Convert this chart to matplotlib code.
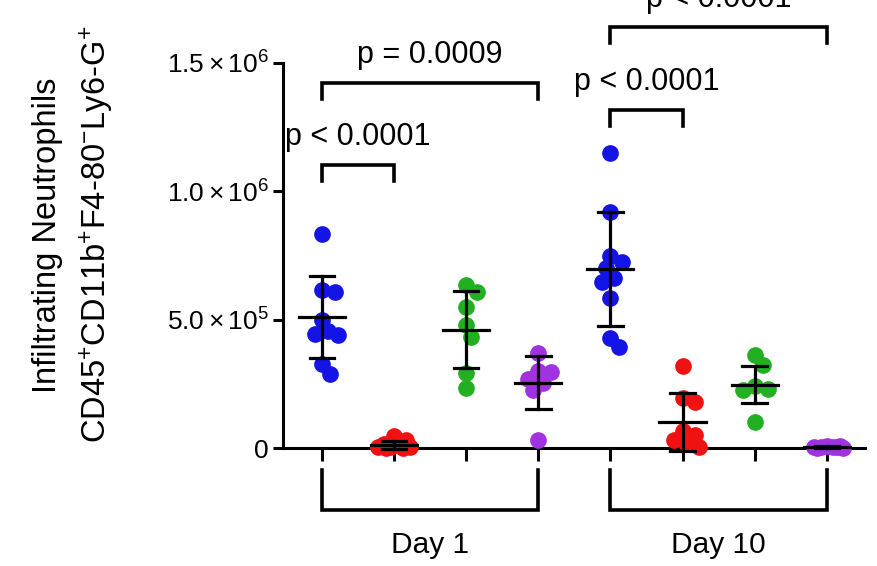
import numpy as np
import matplotlib.pyplot as plt

plt.rcParams['font.family'] = ['Liberation Sans', 'DejaVu Sans']
plt.rcParams['mathtext.fontset'] = 'custom'
plt.rcParams['mathtext.rm'] = 'Liberation Sans'
plt.rcParams['mathtext.it'] = 'Liberation Sans:italic'

# values in thousands of cells
blue_d1 = [834, 616, 608, 499, 455, 445, 440, 327, 288]
red_d1 = [48, 30, 15, 10, 5, 3, 2, 1, 0]
green_d1 = [635, 608, 550, 479, 433, 292, 234]
purple_d1 = [370, 300, 295, 270, 255, 225, 31]
blue_d10 = [1150, 920, 748, 725, 701, 662, 647, 585, 429, 394]
red_d10 = [320, 195, 180, 65, 50, 30, 20, 5]
green_d10 = [362, 323, 240, 230, 225, 101]
purple_d10 = [8, 6, 5, 4, 3, 2, 1, 0]

groups = [blue_d1, red_d1, green_d1, purple_d1, blue_d10, red_d10, green_d10, purple_d10]
colors = ['#1414e6', '#f01212', '#22b022', '#a032e0'] * 2
means = [511, 12, 460, 255, 698, 101, 246, 3.5]
sds = [160, 16, 150, 103, 222, 113, 72, 3]

day_labels = ['Day 1', 'Day 10']
comparisons = [(0, 1, 'p < 0.0001'), (0, 3, 'p = 0.0009'),
               (4, 5, 'p < 0.0001'), (4, 7, 'p < 0.0001')]
bracket_y = [1103, 1422, 1317, 1641]

yticks = [0, 5e5, 1e6, 1.5e6]
ytick_labels = ['0', r'$\mathregular{5.0\times10^{5}}$',
                r'$\mathregular{1.0\times10^{6}}$', r'$\mathregular{1.5\times10^{6}}$']

fig = plt.figure(figsize=(8.77, 5.66), dpi=100)
ax = fig.add_axes([283/877, 118/566, 582/877, 385/566])
ax.set_xlim(-0.54, 7.53)
ax.set_ylim(0, 1.5e6)

# simple beeswarm in pixel space
def swarm(vals, diam=12.5, maxw=16):
    vals = np.array(vals, dtype=float) * 1e3
    order = np.argsort(-vals)
    ypx = ax.transData.transform(np.c_[np.zeros(len(vals)), vals])[:, 1]
    xunit = ax.transData.transform([[1, 0]])[0, 0] - ax.transData.transform([[0, 0]])[0, 0]
    cand = [0.0]
    for k in np.arange(1, maxw + 0.5, 1.0):
        cand += [k, -k]
    placed = []
    offs = np.zeros(len(vals))
    for i in order:
        best, bestd = 0.0, -1
        for c in cand:
            d = min([np.hypot(c - px, ypx[i] - py) for px, py in placed], default=1e9)
            if d >= diam:
                best = c
                break
            if d > bestd:
                best, bestd = c, d
        placed.append((best, ypx[i]))
        offs[i] = best / xunit
    return offs

for i, vals in enumerate(groups):
    offs = swarm(vals)
    ax.plot(i + offs, np.array(vals) * 1e3, 'o', color=colors[i], ms=11,
            mec=colors[i], clip_on=False, zorder=3)
    m, s = means[i] * 1e3, sds[i] * 1e3
    ax.plot([i - 0.32, i + 0.32], [m, m], color='black', lw=2.3, zorder=4, clip_on=False)
    ax.plot([i, i], [m - s, m + s], color='black', lw=2.3, zorder=4, clip_on=False)
    for e in (m - s, m + s):
        ax.plot([i - 0.17, i + 0.17], [e, e], color='black', lw=2.3, zorder=4, clip_on=False)

# significance brackets
for (a, b, txt), yb in zip(comparisons, bracket_y):
    yb = yb * 1e3
    ax.plot([a, a, b, b], [yb - 62e3, yb, yb, yb - 62e3], color='black', lw=2.6,
            clip_on=False, solid_joinstyle='miter')
    ax.text((a + b) / 2, yb + 110e3, txt, ha='center', va='center', fontsize=22,
            clip_on=False)

# day brackets under the axis
for k, lab in enumerate(day_labels):
    a, b = 4 * k, 4 * k + 3
    ax.plot([a, a, b, b], [-86e3, -242e3, -242e3, -86e3], color='black', lw=2.6,
            clip_on=False, solid_joinstyle='miter')
    ax.text((a + b) / 2, -378e3, lab, ha='center', va='center', fontsize=21.5)

ax.set_xticks(range(8))
ax.set_xticklabels([])
ax.set_yticks(yticks)
ax.set_yticklabels(ytick_labels, fontsize=19)
ax.tick_params(axis='x', direction='out', length=9, width=2.2)
ax.tick_params(axis='y', direction='out', length=7, width=2.2, pad=3)
for sp in ['top', 'right']:
    ax.spines[sp].set_visible(False)
for sp in ['left', 'bottom']:
    ax.spines[sp].set_linewidth(2.2)

fig.text(48/877, 1 - 235/566, 'Infiltrating Neutrophils', rotation=90,
         ha='center', va='center', fontsize=23.5)
fig.text(97/877, 1 - 234/566,
         r'$\mathregular{CD45^{+}CD11b^{+}F4\text{-}80^{-}Ly6\text{-}G^{+}}$',
         rotation=90, ha='center', va='center', fontsize=23.5)

fig.savefig('out.png', dpi=100)
